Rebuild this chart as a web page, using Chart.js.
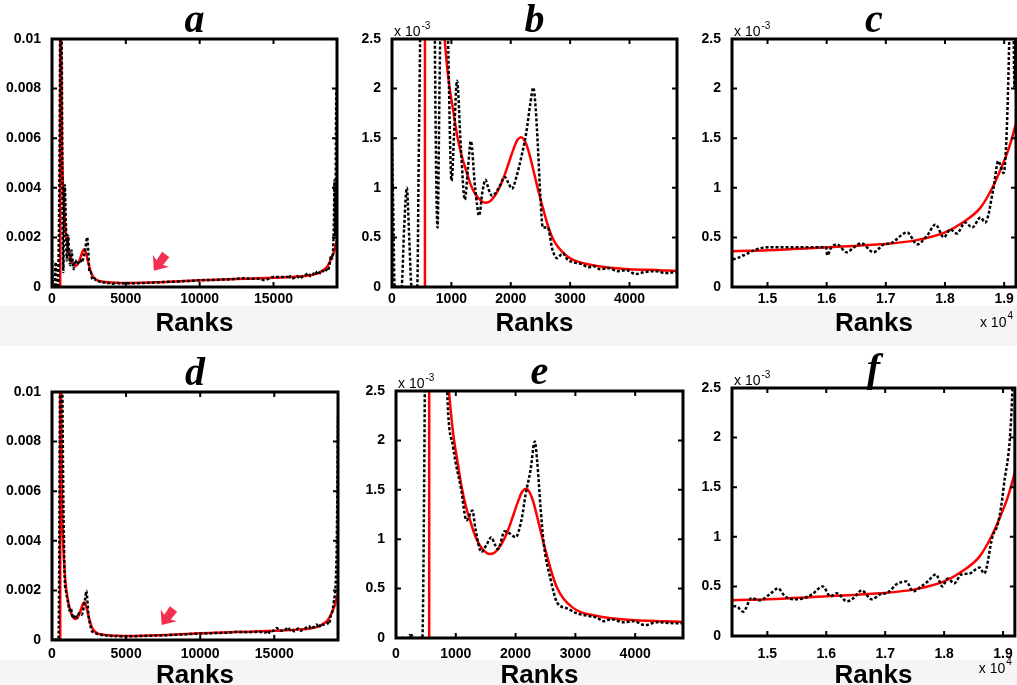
<!DOCTYPE html>
<html>
<head>
<meta charset="utf-8">
<script src="https://cdn.jsdelivr.net/npm/chart.js@4.4.1/dist/chart.umd.min.js"></script>
<style>
    html, body { margin: 0; padding: 0; background: #fff; overflow: hidden; }
    body { width: 1017px; height: 685px; position: relative; }
    .band { position: absolute; left: 0; width: 1017px; background: #f6f4f4; }
    canvas { position: absolute; }
</style>
</head>
<body>
<div class="band" style="top:306px;height:40px"></div>
<div class="band" style="top:660px;height:25px"></div>
<canvas id="pa"></canvas>
<canvas id="pb"></canvas>
<canvas id="pc"></canvas>
<canvas id="pd"></canvas>
<canvas id="pe"></canvas>
<canvas id="pf"></canvas>
<script>
// --- Data (frequencies in units of 1e-3) ---
const topRanks = [0, 20, 45, 160, 205, 250, 290, 330, 425, 450, 475, 520, 560, 620, 660, 700, 722, 767, 800, 835, 870, 905, 940,
    1003, 1050, 1095, 1160, 1227, 1280, 1328, 1400, 1468, 1520, 1574, 1630, 1686, 1800, 1900, 1960, 2020, 2100, 2174, 2260, 2330,
    2380, 2420, 2455, 2500, 2539, 2580, 2624, 2700, 2781, 2876, 2950, 3050, 3200, 3300, 3400, 3500, 3650, 3800, 3950, 4100, 4250,
    4450, 4600, 4800, 5200, 5600, 6000, 6500, 7000, 7500, 8000, 8500, 9000, 9500, 10000, 10500, 11000, 11500, 12000, 12500, 13000,
    13500, 14000, 14400, 14600, 14820, 15000, 15300, 15600, 15990, 16010, 16080, 16170, 16340, 16460, 16590, 16790, 16970, 17080,
    17360, 17530, 17700, 17840, 17980, 18090, 18200, 18340, 18460, 18600, 18680, 18820, 18900, 18990, 19090, 19130, 19175, 19250];
const topFreq = [1.5, 0.8, 0, 0, 0.6, 1.0, 0.5, 0, 0, 1.3, 2.6, 6, 11, 12, 9.5, 5, 2.5, 0.6, 2.0, 3.5, 4.1, 3.4, 2.6,
    1.07, 1.6, 2.08, 1.4, 0.88, 1.2, 1.47, 1.0, 0.72, 0.95, 1.08, 0.98, 0.92, 1.0, 1.11, 1.05, 0.99, 1.12, 1.3, 1.55, 1.85,
    2.01, 1.8, 1.44, 0.9, 0.6, 0.6, 0.6, 0.38, 0.29, 0.34, 0.28, 0.25, 0.23, 0.2, 0.21, 0.18, 0.19, 0.16, 0.17, 0.13, 0.15,
    0.16, 0.14, 0.15, 0.15, 0.15, 0.16, 0.17, 0.18, 0.2, 0.21, 0.22, 0.24, 0.25, 0.27, 0.28, 0.28, 0.3, 0.31, 0.33, 0.35,
    0.33, 0.33, 0.28, 0.32, 0.38, 0.4, 0.4, 0.4, 0.4, 0.32, 0.4, 0.43, 0.35, 0.4, 0.44, 0.35, 0.43, 0.44,
    0.55, 0.43, 0.52, 0.63, 0.5, 0.58, 0.54, 0.65, 0.6, 0.7, 0.65, 1.0, 1.27, 1.15, 2.6, 4.3, 2.0, 8.0];

const bottomRanks = [0, 200, 222, 245, 262, 285, 440, 470, 490, 520, 560, 650, 700, 760, 810, 856, 956, 1094, 1178, 1278, 1330,
    1428, 1520, 1594, 1650, 1706, 1817, 1900, 2000, 2100, 2167, 2250, 2322, 2360, 2420, 2472, 2583, 2694, 2861, 3028, 3250, 3350,
    3472, 3600, 3806, 3972, 4167, 4361, 4639, 4800, 5200, 6000, 7000, 8000, 9000, 10000, 11000, 12000, 12500, 13000, 13500, 14000,
    14400, 14470, 14590, 14730, 14870, 15040, 15180, 15300, 15440, 15610, 15760, 15940, 16070, 16180, 16350, 16460, 16600, 16770,
    16910, 17050, 17190, 17360, 17470, 17610, 17720, 17860, 17970, 18060, 18170, 18290, 18430, 18600, 18680, 18820, 18920, 19010,
    19160, 19220, 19300];
const bottomFreq = [0, 0, 0.03, 0, 0.03, 0, 0, 1.5, 3.5, 8, 12, 12, 10, 6, 3.8, 2.5, 1.93, 1.49, 1.19, 1.29, 1.1,
    0.87, 0.95, 1.02, 0.95, 0.9, 1.08, 1.06, 1.02, 1.2, 1.45, 1.7, 1.99, 1.8, 1.3, 0.95, 0.6, 0.36, 0.3, 0.25, 0.22, 0.21,
    0.17, 0.19, 0.16, 0.17, 0.13, 0.16, 0.15, 0.15, 0.15, 0.16, 0.18, 0.2, 0.23, 0.26, 0.28, 0.3, 0.33, 0.31, 0.32, 0.33,
    0.3, 0.3, 0.245, 0.38, 0.36, 0.42, 0.48, 0.4, 0.37, 0.38, 0.42, 0.5, 0.4, 0.43, 0.35, 0.38, 0.46, 0.37,
    0.42, 0.44, 0.52, 0.55, 0.45, 0.5, 0.55, 0.62, 0.5, 0.58, 0.53, 0.62, 0.63, 0.69, 0.63, 1.0, 1.15, 1.5,
    2.5, 4.0, 9.0];

const fitRanks = [555, 558, 620, 680, 750, 820, 880, 950, 1030, 1100, 1170, 1250, 1320, 1400, 1480, 1560, 1640, 1720, 1800,
    1880, 1960, 2040, 2110, 2170, 2230, 2300, 2380, 2460, 2540, 2620, 2700, 2800, 2950, 3100, 3300, 3600, 4000, 4500, 5000,
    6000, 7000, 8000, 9000, 10000, 11000, 12000, 13000, 14000, 14400, 15000, 16000, 16900, 17500, 18000, 18300, 18600, 18800,
    18950, 19080, 19200, 19300];
const fitFreq = [0, 15, 9.5, 5.5, 4.0, 3.1, 2.55, 2.1, 1.78, 1.52, 1.33, 1.17, 1.04, 0.94, 0.88, 0.85, 0.86, 0.91, 0.99,
    1.1, 1.24, 1.38, 1.48, 1.51, 1.48, 1.37, 1.18, 0.98, 0.8, 0.63, 0.5, 0.4, 0.31, 0.26, 0.23, 0.2, 0.18, 0.17, 0.16,
    0.17, 0.19, 0.21, 0.24, 0.27, 0.29, 0.31, 0.33, 0.35, 0.36, 0.37, 0.4, 0.43, 0.47, 0.55, 0.65, 0.8, 1.0,
    1.2, 1.4, 1.65, 1.9];

const fullTicksX = [0, 5000, 10000, 15000];
const headTicksX = [0, 1000, 2000, 3000, 4000];
const tailTicksX = [15000, 16000, 17000, 18000, 19000];
const fullTicksY = [0, 0.002, 0.004, 0.006, 0.008, 0.01];
const zoomTicksY = [0, 0.0005, 0.001, 0.0015, 0.002, 0.0025];

// arrow tips in panels a and d
const arrowRanks = [6900, 7400];
const arrowFreq = [0.66, 0.6];

const SANS = '"Liberation Sans", Arial, sans-serif';
const yTickFont = { family: SANS, size: 14, weight: 'bold' };
const xTickFont = { family: SANS, size: 14, weight: 'bold', lineHeight: 0.5 };

const fmtFullY = v => (v === 0 ? '0' : String(v));
const fmtZoomY = v => String(Math.round(v * 10000) / 10);
const fmtPlain = v => String(v);
const fmtTail = v => String(v / 10000);

const toPoints = (xs, ys) => xs.map((x, i) => ({ x: x, y: ys[i] / 1000 }));

const framePlugin = {
    id: 'frame',
    afterDatasetsDraw(chart, args, opts) {
        const { ctx, chartArea: a, scales: { x, y } } = chart;
        ctx.save();
        ctx.strokeStyle = '#000';
        ctx.lineWidth = 2;
        ctx.beginPath();
        x.ticks.forEach(t => {
            const px = x.getPixelForValue(t.value);
            if (px <= a.left + 2 || px >= a.right - 2) return;
            ctx.moveTo(px, a.bottom); ctx.lineTo(px, a.bottom - 5);
            ctx.moveTo(px, a.top); ctx.lineTo(px, a.top + 5);
        });
        y.ticks.forEach(t => {
            const py = y.getPixelForValue(t.value);
            if (py <= a.top + 2 || py >= a.bottom - 2) return;
            ctx.moveTo(a.left, py); ctx.lineTo(a.left + 5, py);
            ctx.moveTo(a.right, py); ctx.lineTo(a.right - 5, py);
        });
        ctx.stroke();
        ctx.lineWidth = 3;
        ctx.strokeRect(a.left, a.top, a.right - a.left, a.bottom - a.top);

        ctx.fillStyle = '#000';
        ctx.textBaseline = 'alphabetic';
        if (opts.yExp) {
            ctx.font = '14px ' + SANS;
            ctx.textAlign = 'left';
            ctx.fillText('x 10', a.left + 2, a.top - 3);
            const w = ctx.measureText('x 10').width;
            ctx.font = '10px ' + SANS;
            ctx.fillText('-3', a.left + 3 + w, a.top - 10);
        }
        if (opts.xExp) {
            ctx.font = '10px ' + SANS;
            ctx.textAlign = 'right';
            const sw = ctx.measureText('4').width;
            ctx.fillText('4', a.right - 3, a.bottom + opts.xExp - 8);
            ctx.font = '14px ' + SANS;
            ctx.fillText('x 10', a.right - 4 - sw, a.bottom + opts.xExp);
        }
        if (opts.arrow !== undefined && opts.arrow !== null) {
            const tx = x.getPixelForValue(arrowRanks[opts.arrow]);
            const ty = y.getPixelForValue(arrowFreq[opts.arrow] / 1000);
            const ang = Math.atan2(15, -11);
            const shape = [[0, 0], [-12, -10], [-10, -4], [-20, -4.5], [-20, 4.5], [-10, 4], [-12, 10]];
            ctx.fillStyle = '#f2304f';
            ctx.beginPath();
            shape.forEach(([px, py], i) => {
                const rx = tx + px * Math.cos(ang) - py * Math.sin(ang);
                const ry = ty + px * Math.sin(ang) + py * Math.cos(ang);
                if (i === 0) ctx.moveTo(rx, ry); else ctx.lineTo(rx, ry);
            });
            ctx.closePath();
            ctx.fill();
        }
        ctx.restore();
    }
};

const panels = [
    { id: 'pa', letter: 'a', box: [52, 39, 337, 287], labelY: 323, row: 0, xr: [0, 19300], yr: [0, 0.01],
      xt: fullTicksX, yt: fullTicksY, xf: fmtPlain, yf: fmtFullY, arrow: 0 },
    { id: 'pb', letter: 'b', box: [392, 39, 677, 287], labelY: 323, row: 0, xr: [0, 4800], yr: [0, 0.0025],
      xt: headTicksX, yt: zoomTicksY, xf: fmtPlain, yf: fmtZoomY, yExp: true },
    { id: 'pc', letter: 'c', box: [732, 39, 1016, 287], labelY: 323, row: 0, xr: [14400, 19200], yr: [0, 0.0025],
      xt: tailTicksX, yt: zoomTicksY, xf: fmtTail, yf: fmtZoomY, yExp: true, xExp: 40 },
    { id: 'pd', letter: 'd', box: [52, 392, 338, 640], labelY: 675, row: 1, xr: [0, 19300], yr: [0, 0.01],
      xt: fullTicksX, yt: fullTicksY, xf: fmtPlain, yf: fmtFullY, arrow: 1 },
    { id: 'pe', letter: 'e', box: [396, 391, 683, 638], labelY: 675, row: 1, xr: [0, 4800], yr: [0, 0.0025],
      xt: headTicksX, yt: zoomTicksY, xf: fmtPlain, yf: fmtZoomY, yExp: true },
    { id: 'pf', letter: 'f', box: [732, 388, 1016, 636], labelY: 675, row: 1, xr: [14400, 19200], yr: [0, 0.0025],
      xt: tailTicksX, yt: zoomTicksY, xf: fmtTail, yf: fmtZoomY, yExp: true, xExp: 37 }
];

function makePanel(p) {
    const cv = document.getElementById(p.id);
    const [L, T, R, B] = p.box;
    const bottomH = p.labelY + 17 - B;
    cv.width = 52 + (R - L) + 4;
    cv.height = 39 + (B - T) + bottomH;
    cv.style.left = (L - 52) + 'px';
    cv.style.top = (T - 39) + 'px';

    const xs = p.row === 0 ? topRanks : bottomRanks;
    const ys = p.row === 0 ? topFreq : bottomFreq;
    // keep x tick labels at the same page height across a row
    const xPad = p.row === 0 ? 1 : 648 - B - 5;

    new Chart(cv, {
        type: 'line',
        data: {
            datasets: [
                { data: toPoints(xs, ys), borderColor: '#000', borderWidth: 2.5, borderDash: [3, 2],
                  pointRadius: 0, cubicInterpolationMode: 'monotone' },
                { data: toPoints(fitRanks, fitFreq), borderColor: '#ff0000', borderWidth: 2.5,
                  pointRadius: 0, cubicInterpolationMode: 'monotone' }
            ]
        },
        options: {
            responsive: false,
            animation: false,
            events: [],
            layout: { padding: { right: 4 } },
            plugins: {
                legend: { display: false },
                tooltip: { enabled: false },
                title: {
                    display: true, text: p.letter, fullSize: false, color: '#000',
                    font: { family: '"Liberation Serif", "Times New Roman", serif', size: 40, style: 'italic', weight: 'bold', lineHeight: 0.8 },
                    padding: { top: 6, bottom: 1 }
                },
                frame: { yExp: p.yExp, xExp: p.xExp, arrow: p.arrow }
            },
            scales: {
                x: {
                    type: 'linear', min: p.xr[0], max: p.xr[1],
                    afterBuildTicks: s => { s.ticks = p.xt.map(v => ({ value: v })); },
                    afterFit: s => { s.height = bottomH; },
                    grid: { display: false }, border: { display: false },
                    ticks: { font: xTickFont, color: '#000', padding: xPad, maxRotation: 0, autoSkip: false, callback: v => p.xf(v) },
                    title: { display: true, text: 'Ranks', color: '#000', font: { family: SANS, size: 26, weight: 'bold', lineHeight: 1 }, padding: { top: 0, bottom: 3 } }
                },
                y: {
                    min: p.yr[0], max: p.yr[1],
                    afterBuildTicks: s => { s.ticks = p.yt.map(v => ({ value: v })); },
                    afterFit: s => { s.width = 52; },
                    grid: { display: false }, border: { display: false },
                    ticks: { font: yTickFont, color: '#000', padding: 3, autoSkip: false, callback: v => p.yf(v) }
                }
            }
        },
        plugins: [framePlugin]
    });
}

panels.forEach(makePanel);
</script>
</body>
</html>
